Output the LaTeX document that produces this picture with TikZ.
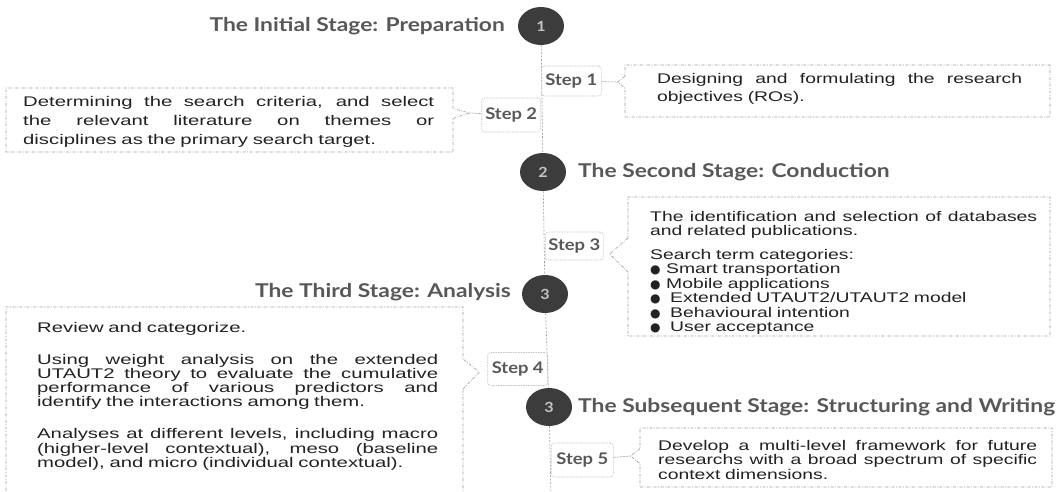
\documentclass[tikz,border=0pt]{standalone}
\usepackage{fontspec}
\usetikzlibrary{shapes.callouts,shapes.geometric,calc}
\setmainfont{Liberation Sans}
\newfontfamily\titlefont{Lato}[FakeStretch=1.2]
\newfontfamily\labelfont{Lato}[FakeStretch=1.15]
\newfontfamily\bodywide{Liberation Sans}[FakeStretch=1.45]
\newfontfamily\bodymid{Liberation Sans}[FakeStretch=1.38]
\newfontfamily\bulletfont{DejaVu Sans}

\definecolor{ink}{HTML}{222222}
\definecolor{titlegray}{HTML}{585858}
\definecolor{disc}{HTML}{3C3C3C}
\definecolor{discnum}{HTML}{C4C4C4}
\definecolor{framegray}{HTML}{9C9C9C}
\definecolor{stepgray}{HTML}{C4C4C4}

% a justified line spread over the width \jw
\newlength{\jw}
\newcommand{\jl}[1]{\leavevmode\hbox to\jw{\spaceskip=\fontdimen2\font plus 1fil minus .1em\relax #1}}
\newcommand{\bul}[1]{\makebox[#1][l]{\bulletfont\fontsize{12}{12}\selectfont ●}}

\tikzset{
  stagetitle/.style={font=\titlefont\bfseries\fontsize{19}{22}\selectfont, text=titlegray, inner sep=0},
  stage/.style={ellipse, fill=disc, minimum width=46, minimum height=38, inner sep=0,
    text=discnum, font=\labelfont\bfseries\fontsize{14}{16}\selectfont},
  stepbox/.style={draw=stepgray, dash pattern=on 1.5pt off 1pt, rounded corners=3,
    line width=0.6pt, inner sep=0, text=titlegray,
    font=\labelfont\bfseries\fontsize{16}{18}\selectfont},
  notebox/.style={rectangle callout, draw=framegray, line width=0.6pt,
    dash pattern=on 3pt off 1.5pt on 0.8pt off 1.5pt, inner sep=0},
  timeline/.style={draw=framegray, line width=0.6pt, dash pattern=on 2pt off 1.5pt},
  link/.style={draw=framegray, line width=0.6pt, dash pattern=on 2pt off 1pt},
  widetext/.style={anchor=base west, inner sep=0, align=left, text=ink,
    font=\bodywide\fontsize{14}{19}\selectfont},
  midtext/.style={anchor=base west, inner sep=0, align=left, text=ink,
    font=\bodymid\fontsize{14}{14.5}\selectfont},
}

\begin{document}
\begin{tikzpicture}[x=1pt,y=-1pt]
\useasboundingbox[fill=white] (0,0) rectangle (1060,492);

% stages on the timeline
\node[stage] (c1) at (541,26) {1};
\node[stage] (c2) at (543,172) {2};
\node[stage] (c3) at (545,294) {3};
\node[stage] (c4) at (549,407) {3};
\node[stagetitle, anchor=east] (t1) at (505,26) {The Initial Stage: Preparation};
\node[stagetitle, anchor=west] (t2) at (578,172) {The Second Stage: Conduction};
\node[stagetitle, anchor=east] (t3) at (511,292) {The Third Stage: Analysis};
\node[stagetitle, anchor=west] (t4) at (578,407) {The Subsequent Stage: Structuring and Writing};
\coordinate (tend) at (551,494);

% timeline
\draw[timeline] (c1) -- (c2);
\draw[timeline] (c2) -- (c3);
\draw[timeline] (c3) -- (c4);
\draw[timeline] (c4) -- (tend);

% step labels
\node[stepbox, anchor=west, minimum width=60, minimum height=30] (s1) at (541,81) {Step 1};
\node[stepbox, anchor=east, minimum width=59, minimum height=34] (s2) at (541,115) {Step 2};
\node[stepbox, anchor=west, minimum width=58, minimum height=28] (s3) at (545,246) {Step 3};
\node[stepbox, anchor=east, minimum width=60, minimum height=33] (s4) at (548,369) {Step 4};
\node[stepbox, anchor=west, minimum width=62, minimum height=34] (s5) at (551,460) {Step 5};

% pointer tips of the note boxes
\coordinate (p1) at ($(s1.east)+(16,1)$);
\coordinate (p2) at ($(s2.west)+(-12,-2)$);
\coordinate (p3) at ($(s3.east)+(6,8)$);
\coordinate (p4) at ($(s4.west)+(-8,3)$);
\coordinate (p5) at ($(s5.east)+(17,-4)$);

% note frames
\node[notebox, minimum width=425, minimum height=52, callout absolute pointer={(p1)},
  callout pointer width=12] (d1) at (837.5,91) {};
\node[notebox, minimum width=447, minimum height=64, callout absolute pointer={(p2)},
  callout pointer width=10] (d2) at (229.5,120) {};
\node[notebox, minimum width=422, minimum height=139, callout absolute pointer={(p3)},
  callout pointer width=34] (d3) at (839,266.5) {};
\node[notebox, minimum width=457, minimum height=187, callout absolute pointer={(p4)},
  callout pointer width=30] (d4) at (234.5,400.5) {};
\node[notebox, minimum width=412, minimum height=59, callout absolute pointer={(p5)},
  callout pointer width=15] (d5) at (846,457.5) {};

% short links from the labels to the pointers
\draw[link] (s1) -- (p1);
\draw[link] (p2) -- (s2);
\draw[link] (p5) -- (s5);

% note texts
\node[midtext, text width=370, font=\bodymid\fontsize{14}{18}\selectfont] (d1t) at (657,84)
  {\setlength{\jw}{365pt}%
   \jl{Designing and formulating the research}\\objectives (ROs).};

\node[widetext, text width=415] (d2t) at (23,107)
  {\setlength{\jw}{411pt}%
   \jl{Determining the search criteria, and select}\\
   \jl{the relevant literature on themes or}\\
   disciplines as the primary search target.};

\node[midtext, text width=392] (d3t) at (650,221)
  {\setlength{\jw}{387pt}%
   \jl{The identification and selection of databases}\\
   and related publications.\\[9pt]
   Search term categories:\\
   \bul{16pt}Smart transportation\\
   \bul{16pt}Mobile applications\\
   \bul{20pt}Extended UTAUT2/UTAUT2 model\\
   \bul{20pt}Behavioural intention\\
   \bul{20pt}User acceptance};

\node[widetext, text width=405, font=\bodywide\fontsize{14}{14.3}\selectfont] (d4t) at (37,332)
  {\setlength{\jw}{401pt}%
   Review and categorize.\\[17.7pt]
   \jl{Using weight analysis on the extended}\\
   \jl{UTAUT2 theory to evaluate the cumulative}\\
   \jl{performance of various predictors and}\\
   identify the interactions among them.\\[17.7pt]
   \jl{Analyses at different levels, including macro}\\
   \jl{(higher-level contextual), meso (baseline}\\
   model), and micro (individual contextual).};

\node[midtext, text width=384] (d5t) at (658,450)
  {\setlength{\jw}{379pt}%
   \jl{Develop a multi-level framework for future}\\
   \jl{researchs with a broad spectrum of specific}\\
   context dimensions.};
\end{tikzpicture}
\end{document}
